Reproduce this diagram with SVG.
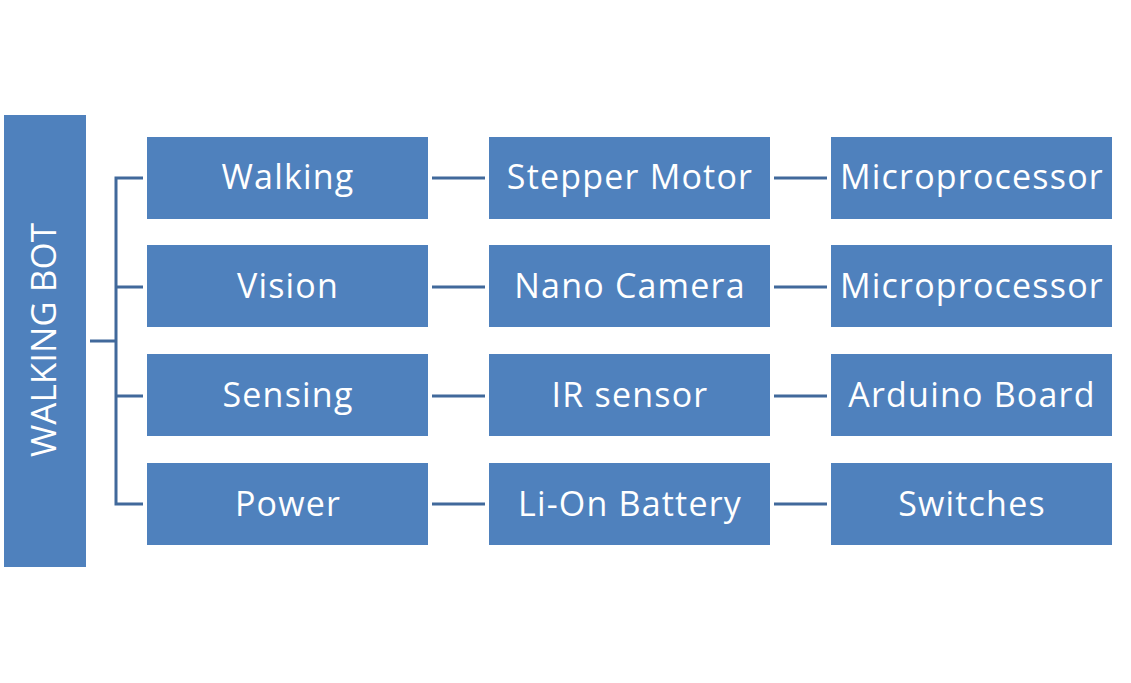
<svg xmlns="http://www.w3.org/2000/svg" width="1131" height="683" viewBox="0 0 1131 683">
<style>
.box{fill:#4f81bd}
.t{font-family:"Open Sans","Liberation Sans",sans-serif;font-size:34px;letter-spacing:1.2px;fill:#fff;text-anchor:middle}
.r{font-family:"Open Sans","Liberation Sans",sans-serif;font-size:35px;fill:#fff;text-anchor:middle}
.c{stroke:#41699b;stroke-width:3;fill:none}
</style>
<rect width="1131" height="683" fill="#fff"/>
<g id="root"><rect class="box" x="4" y="115" width="82" height="452"/>
<text class="r" transform="translate(56,340) rotate(-90)">WALKING BOT</text></g>
<g id="connectors">
<path class="c" d="M90 341H116M143 178H116V504H143M116 287H143M116 396H143"/>
<path class="c" d="M432 178H485M774 178H827M432 287H485M774 287H827M432 396H485M774 396H827M432 504H485M774 504H827"/>
</g>
<g id="walking"><rect class="box" x="147" y="137" width="281" height="82"/><text class="t" x="288" y="189">Walking</text></g>
<g id="stepper"><rect class="box" x="489" y="137" width="281" height="82"/><text class="t" x="630" y="189">Stepper Motor</text></g>
<g id="micro1"><rect class="box" x="831" y="137" width="281" height="82"/><text class="t" x="972" y="189">Microprocessor</text></g>
<g id="vision"><rect class="box" x="147" y="245" width="281" height="82"/><text class="t" x="288" y="298">Vision</text></g>
<g id="camera"><rect class="box" x="489" y="245" width="281" height="82"/><text class="t" x="630" y="298">Nano Camera</text></g>
<g id="micro2"><rect class="box" x="831" y="245" width="281" height="82"/><text class="t" x="972" y="298">Microprocessor</text></g>
<g id="sensing"><rect class="box" x="147" y="354" width="281" height="82"/><text class="t" x="288" y="407">Sensing</text></g>
<g id="ir"><rect class="box" x="489" y="354" width="281" height="82"/><text class="t" x="630" y="407">IR sensor</text></g>
<g id="arduino"><rect class="box" x="831" y="354" width="281" height="82"/><text class="t" x="972" y="407">Arduino Board</text></g>
<g id="power"><rect class="box" x="147" y="463" width="281" height="82"/><text class="t" x="288" y="516">Power</text></g>
<g id="battery"><rect class="box" x="489" y="463" width="281" height="82"/><text class="t" x="630" y="516">Li-On Battery</text></g>
<g id="switches"><rect class="box" x="831" y="463" width="281" height="82"/><text class="t" x="972" y="516">Switches</text></g>
</svg>
